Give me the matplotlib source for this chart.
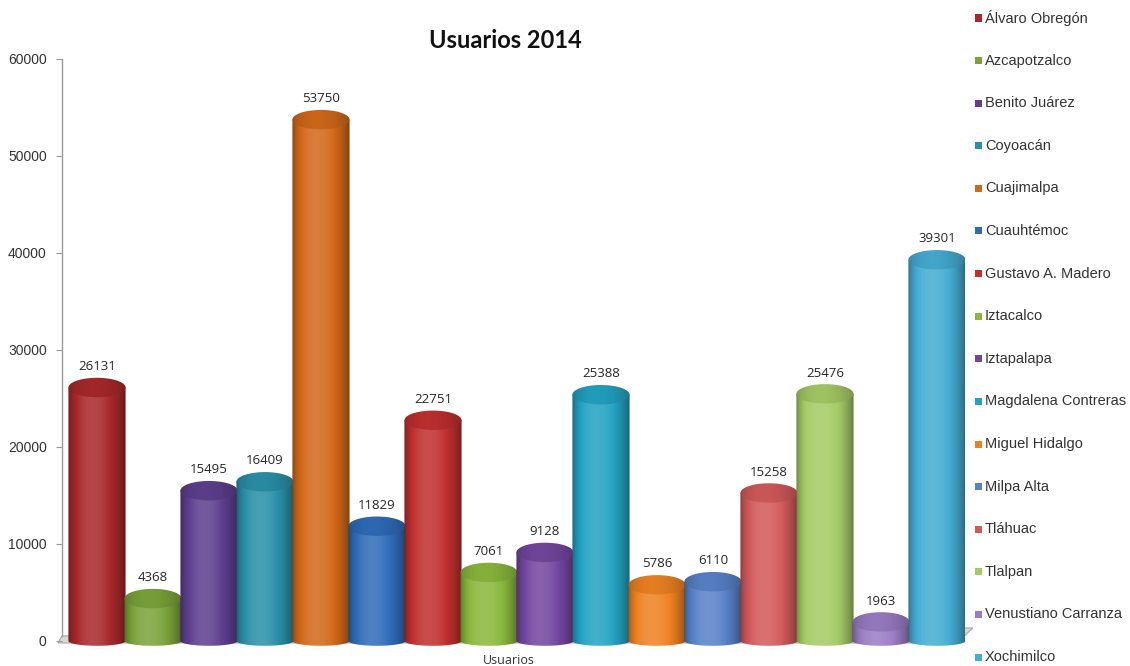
import numpy as np
import matplotlib
matplotlib.use("Agg")
import matplotlib.pyplot as plt
from matplotlib.patches import Polygon, Rectangle
from matplotlib.colors import to_rgb

# ---- data -------------------------------------------------------------
categories = [
    "Álvaro Obregón", "Azcapotzalco", "Benito Juárez", "Coyoacán",
    "Cuajimalpa", "Cuauhtémoc", "Gustavo A. Madero", "Iztacalco",
    "Iztapalapa", "Magdalena Contreras", "Miguel Hidalgo", "Milpa Alta",
    "Tláhuac", "Tlalpan", "Venustiano Carranza", "Xochimilco",
]
usuarios = [26131, 4368, 15495, 16409, 53750, 11829, 22751, 7061,
            9128, 25388, 5786, 6110, 15258, 25476, 1963, 39301]
colors = [
    "#A8292B", "#7BA33A", "#5E3F8F", "#2A90A8",
    "#D2691A", "#2F6CB8", "#C0302F", "#8AB83C",
    "#7347A0", "#23A2C2", "#EE8222", "#5882C8",
    "#D25A5A", "#A5CB66", "#9A7CC4", "#45ACD3",
]
y_ticks = [0, 10000, 20000, 30000, 40000, 50000, 60000]
title = "Usuarios 2014"
x_label = "Usuarios"

# ---- figure / axes ----------------------------------------------------
W, H = 1130, 666
fig = plt.figure(figsize=(W / 100, H / 100), dpi=100)
fig.patch.set_facecolor("white")
ax = fig.add_axes([62 / W, (H - 655) / H, (965 - 62) / W, (655 - 59) / H])
XMIN, XMAX = -0.625, 15.5
YMIN, YMAX = -1450, 60000

BAR_W = 1.02         # cylinder diameter in category units
CAP_H = 2000         # apparent height of the elliptical top cap, in data units
BASE_H = 1000        # flatter ellipse at the foot of each cylinder


def shade(rgb, f):
    rgb = np.asarray(rgb, dtype=float)
    if f >= 1:
        return rgb + (1 - rgb) * (f - 1)
    return rgb * f


def gradient(rgb, lo, hi, n=160):
    t = np.linspace(0, 1, n)
    prof = lo + (hi - lo) * np.sin(np.pi * t ** 0.8) ** 0.7
    return np.array([[shade(rgb, f) for f in prof]])


def half_ellipse(cx, cy, w, h, lower=True, n=60):
    th = np.linspace(np.pi, 2 * np.pi, n) if lower else np.linspace(0, np.pi, n)
    return np.column_stack([cx + w / 2 * np.cos(th), cy + h / 2 * np.sin(th)])


# floor
floor = Polygon([(-0.696, -206), (15.36, -206), (15.64, 1340), (-0.625, 515)],
                closed=True, facecolor="#DADADA", edgecolor="#A6A6A6",
                linewidth=0.8, zorder=1, clip_on=False)
ax.add_patch(floor)

for i, (v, c) in enumerate(zip(usuarios, colors)):
    rgb = to_rgb(c)
    x0, x1 = i - BAR_W / 2, i + BAR_W / 2
    # body: left side, lower half of the base ellipse, right side
    base = half_ellipse(i, 0, BAR_W, BASE_H, lower=True)
    verts = np.vstack([[(x0, v)], base, [(x1, v)]])
    body = Polygon(verts, closed=True, facecolor="none", edgecolor="none",
                   transform=ax.transData)
    ax.add_patch(body)
    im = ax.imshow(gradient(rgb, 0.58, 1.14), extent=[x0, x1, -BASE_H, v + CAP_H],
                   aspect="auto", interpolation="bilinear", zorder=2 + i * 0.01)
    im.set_clip_path(body)

    # top cap
    top = np.vstack([half_ellipse(i, v, BAR_W, CAP_H, lower=True),
                     half_ellipse(i, v, BAR_W, CAP_H, lower=False)])
    cap = Polygon(top, closed=True, facecolor="none", edgecolor="none",
                  transform=ax.transData)
    ax.add_patch(cap)
    im2 = ax.imshow(gradient(rgb, 0.72, 0.96), extent=[x0, x1, v - CAP_H, v + CAP_H],
                    aspect="auto", interpolation="bilinear", zorder=2.005 + i * 0.01)
    im2.set_clip_path(cap)

    ax.annotate(f"{v}", xy=(i, v), xytext=(0, 15), textcoords="offset points",
                ha="center", va="center", fontsize=9.5, family="Open Sans",
                color="#262626", zorder=5)

ax.set_xlim(XMIN, XMAX)
ax.set_ylim(YMIN, YMAX)

# axes styling
for side in ("top", "right", "bottom"):
    ax.spines[side].set_visible(False)
ax.spines["left"].set_color("#9A9A9A")
ax.spines["left"].set_linewidth(1.0)
ax.spines["left"].set_bounds(515, YMAX)
ax.set_yticks(y_ticks)
ax.set_yticklabels([str(t) for t in y_ticks])
ax.tick_params(axis="y", length=4.5, width=0.8, color="#9A9A9A", pad=6.5,
               labelsize=10, labelcolor="#333333")
for lbl in ax.get_yticklabels():
    lbl.set_family("Liberation Sans")
ax.set_xticks([])
ax.patch.set_alpha(0)

# title and axis label
fig.text(505 / W, 1 - 40 / H, title, ha="center", va="center",
         fontsize=17, fontweight="bold", family="Lato", color="#111111")
fig.text(509 / W, 1 - 660 / H, x_label, ha="center", va="center",
         fontsize=9, family="Open Sans", color="#333333")

# legend on the right
leg_y0, leg_dy = 18, 42.6
for k, (name, c) in enumerate(zip(categories, colors)):
    yc = leg_y0 + k * leg_dy
    fig.patches.append(Rectangle((975 / W, 1 - (yc + 3.5) / H), 7 / W, 7 / H,
                                 transform=fig.transFigure, facecolor=c,
                                 edgecolor="none"))
    fig.text(985 / W, 1 - yc / H, name, ha="left", va="center",
             fontsize=10.5, family="Liberation Sans", color="#333333")

fig.savefig("out.png", dpi=100, facecolor="white")
